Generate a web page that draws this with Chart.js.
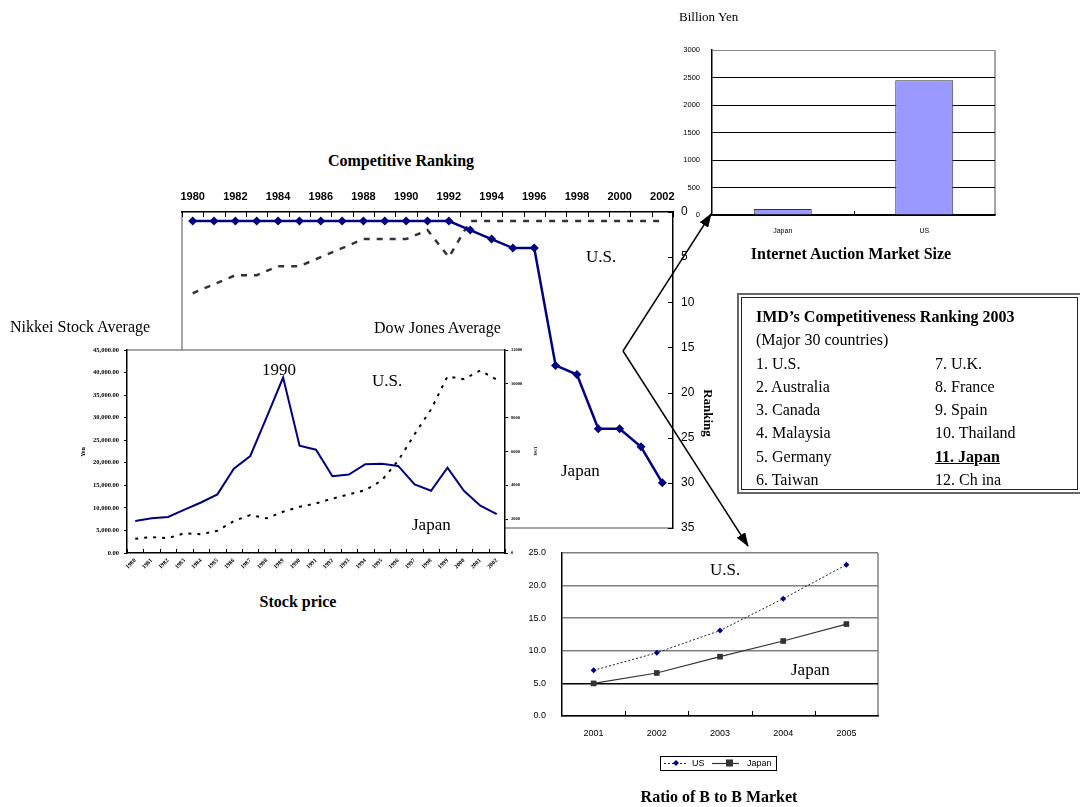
<!DOCTYPE html>
<html>
<head>
<meta charset="utf-8">
<script src="https://cdn.jsdelivr.net/npm/chart.js@4.4.1/dist/chart.umd.min.js"></script>
<style>
  html, body { margin: 0; padding: 0; background: #fff; }
  body { width: 1080px; height: 807px; position: relative; overflow: hidden;
         font-family: "Liberation Serif", "Times New Roman", serif; color: #000; }
  canvas.cv { position: absolute; }
  .t { position: absolute; white-space: nowrap; line-height: 1; }
  .c { transform: translate(-50%, -50%); }
  .l { transform: translateY(-50%); }
  .b { font-weight: bold; }
  #imd { position: absolute; left: 737px; top: 293px; width: 337px; height: 193px;
         border: 2px solid #666; padding: 2px; }
  #imd .in { width: 100%; height: 100%; box-sizing: border-box; border: 1.5px solid #222;
             position: relative; font-size: 16px; }
  #imd .row { position: absolute; left: 14px; white-space: nowrap; line-height: 1; }
  #imd .r2 { left: 193px; }
  svg#arrows { position: absolute; left: 0; top: 0; pointer-events: none; }
</style>
</head>
<body>

<canvas id="rankChart" class="cv" width="600" height="370" style="left:140px;top:175px;width:600px;height:370px"></canvas>
<canvas id="stockChart" class="cv" width="490" height="250" style="left:60px;top:335px;width:490px;height:250px"></canvas>
<canvas id="auctionChart" class="cv" width="360" height="210" style="left:670px;top:35px;width:360px;height:210px"></canvas>
<canvas id="b2bChart" class="cv" width="380" height="240" style="left:520px;top:540px;width:380px;height:240px"></canvas>

<!-- titles and annotations -->
<div class="t l" style="left:679px;top:16px;font-size:13px">Billion Yen</div>
<div class="t c b" style="left:851px;top:254px;font-size:16px">Internet Auction Market Size</div>

<div class="t c b" style="left:401px;top:161px;font-size:16px">Competitive Ranking</div>
<div class="t l" style="left:586px;top:256px;font-size:17px">U.S.</div>
<div class="t l" style="left:561px;top:470px;font-size:17px">Japan</div>
<div class="t c b" style="left:708px;top:413px;font-size:13px;transform:translate(-50%,-50%) rotate(90deg)">Ranking</div>

<div class="t l" style="left:10px;top:327px;font-size:16px">Nikkei Stock Average</div>
<div class="t l" style="left:374px;top:328px;font-size:16px">Dow Jones Average</div>
<div class="t l" style="left:262px;top:369px;font-size:17px">1990</div>
<div class="t l" style="left:372px;top:380px;font-size:17px">U.S.</div>
<div class="t l" style="left:412px;top:524px;font-size:17px">Japan</div>
<div class="t c b" style="left:83px;top:452px;font-size:6px;transform:translate(-50%,-50%) rotate(-90deg)">Yen</div>
<div class="t c b" style="left:535px;top:451px;font-size:5px;transform:translate(-50%,-50%) rotate(90deg)">US$</div>
<div class="t c b" style="left:298px;top:602px;font-size:16px">Stock price</div>

<div class="t l" style="left:710px;top:569px;font-size:17px">U.S.</div>
<div class="t l" style="left:791px;top:669px;font-size:17px">Japan</div>
<div class="t c b" style="left:719px;top:797px;font-size:16px">Ratio of B to B Market</div>

<div id="imd"><div class="in">
  <div class="row b" style="top:11px">IMD’s Competitiveness Ranking 2003</div>
  <div class="row" style="top:34px">(Major 30 countries)</div>
  <div class="row" style="top:58px">1. U.S.</div>
  <div class="row" style="top:81px">2. Australia</div>
  <div class="row" style="top:104px">3. Canada</div>
  <div class="row" style="top:127px">4. Malaysia</div>
  <div class="row" style="top:151px">5. Germany</div>
  <div class="row" style="top:174px">6. Taiwan</div>
  <div class="row r2" style="top:58px">7. U.K.</div>
  <div class="row r2" style="top:81px">8. France</div>
  <div class="row r2" style="top:104px">9. Spain</div>
  <div class="row r2" style="top:127px">10. Thailand</div>
  <div class="row r2 b" style="top:151px;text-decoration:underline">11. Japan</div>
  <div class="row r2" style="top:174px">12. Ch ina</div>
</div></div>

<svg id="arrows" width="1080" height="807" viewBox="0 0 1080 807">
  <defs>
    <marker id="ah" markerWidth="14" markerHeight="10" refX="13" refY="5" orient="auto" markerUnits="userSpaceOnUse">
      <path d="M0,0 L14,5 L0,10 z" fill="#000"/>
    </marker>
  </defs>
  <path d="M623,351 L711,214" stroke="#000" stroke-width="1.5" fill="none" marker-end="url(#ah)"/>
  <path d="M623,351 L748,546" stroke="#000" stroke-width="1.5" fill="none" marker-end="url(#ah)"/>
</svg>

<script>
// ---------- data ----------
const years = ['1980','1981','1982','1983','1984','1985','1986','1987','1988','1989','1990',
               '1991','1992','1993','1994','1995','1996','1997','1998','1999','2000','2001','2002'];

// competitiveness rank by year
const rankJapan = [1,1,1,1,1,1,1,1,1,1,1,1,1,2,3,4,4,17,18,24,24,26,30];
const rankUS    = [9,8,7,7,6,6,5,4,3,3,3,2,5,1,1,1,1,1,1,1,1,1,1];

// year-end stock indices
const nikkeiYen = [7100,7700,8000,9600,11200,13000,18700,21500,30100,38900,23800,22900,
                   17000,17400,19700,19800,19300,15200,13800,18900,13800,10500,8600];
const dowUSD    = [840,940,880,1170,1110,1310,1890,2240,2050,2440,2730,2930,
                   3220,3470,3710,4290,5460,7020,8490,10440,10280,10790,10240];

// internet auction market size (billion yen)
const auctionCountries = ['Japan', 'US'];
const auctionSize = [110, 2450];

// B to B market ratio
const b2bYears = ['2001','2002','2003','2004','2005'];
const b2bUS    = [7.0, 9.7, 13.1, 18.0, 23.2];
const b2bJapan = [5.0, 6.6, 9.1, 11.5, 14.1];

// ---------- helpers ----------
Chart.defaults.font.family = '"Liberation Sans", Arial, sans-serif';
Chart.defaults.color = '#000';

const SANS = '"Liberation Sans", Arial, sans-serif';
const SERIF = '"Liberation Serif", "Times New Roman", serif';
const plain = v => String(v);
const CLEAR = 'rgba(0,0,0,0)';

// plot-area frame: optional white fill, thin edges, and tick marks pointing into the plot
function framePlugin(cfg) {
  return {
    id: 'frame',
    beforeDraw(chart) {
      const a = chart.chartArea, c = chart.ctx;
      c.save();
      if (cfg.fill) {
        c.fillStyle = '#fff';
        c.fillRect(a.left, a.top, a.right - a.left, a.bottom - a.top);
      }
      c.strokeStyle = cfg.edgeColor || '#888';
      c.lineWidth = cfg.edgeWidth || 1.5;
      c.beginPath();
      (cfg.edges || []).forEach(e => {
        if (e === 'top')    { c.moveTo(a.left, a.top);    c.lineTo(a.right, a.top); }
        if (e === 'bottom') { c.moveTo(a.left, a.bottom); c.lineTo(a.right, a.bottom); }
        if (e === 'left')   { c.moveTo(a.left, a.top);    c.lineTo(a.left, a.bottom); }
        if (e === 'right')  { c.moveTo(a.right, a.top);   c.lineTo(a.right, a.bottom); }
      });
      c.stroke();
      c.restore();
    },
    afterDraw(chart) {
      const a = chart.chartArea, c = chart.ctx;
      c.save();
      c.strokeStyle = '#000';
      c.lineWidth = 1;
      (cfg.ticks || []).forEach(t => {
        const s = chart.scales[t.axis];
        c.beginPath();
        if (s.isHorizontal()) {
          const n = chart.data.labels.length;
          const w = (a.right - a.left) / n;
          const from = t.inner ? 1 : 0, to = t.inner ? n - 1 : n;
          const y0 = t.side === 'top' ? a.top : a.bottom;
          const dir = t.side === 'top' ? 1 : -1;
          for (let i = from; i <= to; i++) {
            const x = Math.round(a.left + i * w) + 0.5;
            c.moveTo(x, y0); c.lineTo(x, y0 + dir * t.len);
          }
        } else {
          const x0 = t.side === 'right' ? a.right : a.left;
          const dir = t.side === 'right' ? -1 : 1;
          s.ticks.forEach(tk => {
            const y = Math.round(s.getPixelForValue(tk.value)) + 0.5;
            c.moveTo(x0, y); c.lineTo(x0 + dir * t.len, y);
          });
        }
        c.stroke();
      });
      c.restore();
    }
  };
}

// ---------- competitive ranking ----------
new Chart(document.getElementById('rankChart'), {
  type: 'line',
  data: {
    labels: years,
    datasets: [
      { label: 'Japan', data: rankJapan, borderColor: '#000080', backgroundColor: '#000080',
        borderWidth: 2.5, pointStyle: 'rectRot', pointRadius: 4.5, pointBorderWidth: 0, tension: 0 },
      { label: 'U.S.', data: rankUS, borderColor: '#333', borderWidth: 2.5,
        borderDash: [6, 7], pointRadius: 0, tension: 0 }
    ]
  },
  options: {
    responsive: false, animation: false,
    layout: { padding: { left: 42, top: 0, right: 0, bottom: 17 } },
    plugins: { legend: { display: false }, tooltip: { enabled: false } },
    scales: {
      x: {
        position: 'top', offset: true,
        grid: { display: false, drawTicks: false },
        border: { display: true, color: '#000', width: 1.5 },
        ticks: {
          autoSkip: false, maxRotation: 0, padding: 8,
          font: { family: SANS, size: 11, weight: 'bold' },
          callback: function (v, i) { return i % 2 === 0 ? this.getLabelForValue(v) : ''; }
        },
        afterFit: s => { s.height = 37; }
      },
      y: {
        position: 'right', reverse: true, min: 0, max: 35,
        grid: { display: false, drawTicks: false },
        border: { display: true, color: '#000', width: 1.5 },
        ticks: { stepSize: 5, padding: 8, font: { family: SANS, size: 12 } },
        afterFit: s => { s.width = 67; }
      }
    }
  },
  plugins: [framePlugin({ edges: ['left', 'bottom'], edgeColor: '#888',
    ticks: [{ axis: 'x', side: 'top', len: 5 }, { axis: 'y', side: 'right', len: 5 }] })]
});

// ---------- stock price ----------
new Chart(document.getElementById('stockChart'), {
  type: 'line',
  data: {
    labels: years,
    datasets: [
      { label: 'Nikkei Stock Average', data: nikkeiYen, yAxisID: 'y',
        borderColor: '#000080', borderWidth: 2, pointRadius: 0, tension: 0 },
      { label: 'Dow Jones Average', data: dowUSD, yAxisID: 'y2',
        borderColor: '#000', borderWidth: 2, borderDash: [3, 6], pointRadius: 0, tension: 0 }
    ]
  },
  options: {
    responsive: false, animation: false,
    layout: { padding: { left: 0, top: 15, right: 0, bottom: 0 } },
    plugins: { legend: { display: false }, tooltip: { enabled: false } },
    scales: {
      x: {
        offset: true,
        grid: { display: false, drawTicks: false },
        border: { display: true, color: '#000', width: 1.5 },
        ticks: { autoSkip: false, minRotation: 45, maxRotation: 45, padding: 4,
                 font: { family: SERIF, size: 6, weight: 'bold' } },
        afterFit: s => { s.height = 32; }
      },
      y: {
        position: 'left', min: 0, max: 45000,
        grid: { drawOnChartArea: false, tickLength: 3, color: '#000' },
        border: { display: true, color: '#000', width: 1.5 },
        ticks: { stepSize: 5000, padding: 5, font: { family: SERIF, size: 6.5, weight: 'bold' },
                 callback: v => v.toLocaleString('en-US', { minimumFractionDigits: 2, maximumFractionDigits: 2 }) },
        afterFit: s => { s.width = 67; }
      },
      y2: {
        position: 'right', min: 0, max: 12000,
        grid: { drawOnChartArea: false, tickLength: 3, color: '#000' },
        border: { display: true, color: '#000', width: 1.5 },
        ticks: { stepSize: 2000, padding: 3, font: { family: SERIF, size: 4.5, weight: 'bold' },
                 callback: plain },
        afterFit: s => { s.width = 45; }
      }
    }
  },
  plugins: [framePlugin({ fill: true, edges: ['top'], edgeColor: '#888',
    ticks: [{ axis: 'x', side: 'bottom', len: 4 }] })]
});

// ---------- internet auction market size ----------
new Chart(document.getElementById('auctionChart'), {
  type: 'bar',
  data: {
    labels: auctionCountries,
    datasets: [{ label: 'Billion Yen', data: auctionSize, backgroundColor: '#9999FF',
                 borderColor: '#333', borderWidth: 1, barPercentage: 0.41, categoryPercentage: 1 }]
  },
  options: {
    responsive: false, animation: false,
    layout: { padding: { left: 0, top: 15, right: 35, bottom: 0 } },
    plugins: { legend: { display: false }, tooltip: { enabled: false } },
    scales: {
      x: {
        grid: { display: false, drawTicks: false },
        border: { display: true, color: '#000', width: 1.5 },
        ticks: { padding: 12, font: { family: SANS, size: 7 } },
        afterFit: s => { s.height = 30; }
      },
      y: {
        min: 0, max: 3000,
        grid: { drawTicks: true, tickLength: 7, tickColor: CLEAR, lineWidth: 1,
                color: c => (c.tick && c.tick.value === 3000) ? '#888' : '#000' },
        border: { display: true, color: '#000', width: 1.5 },
        ticks: { stepSize: 500, padding: 5, font: { family: SANS, size: 7.5 }, callback: plain },
        afterFit: s => { s.width = 42; }
      }
    }
  },
  plugins: [framePlugin({ edges: ['right'], edgeColor: '#888',
    ticks: [{ axis: 'x', side: 'bottom', len: 4, inner: true }] })]
});

// ---------- ratio of B to B market ----------
const b2bLegend = {
  id: 'b2bLegend',
  afterDraw(chart) {
    const c = chart.ctx;
    const x = 140, y = 216, w = 116, h = 14, my = y + h / 2;
    c.save();
    c.strokeStyle = '#000'; c.lineWidth = 1;
    c.strokeRect(x + 0.5, y + 0.5, w, h);
    // US entry
    c.strokeStyle = '#222'; c.setLineDash([2, 2]);
    c.beginPath(); c.moveTo(x + 4, my + 0.5); c.lineTo(x + 28, my + 0.5); c.stroke();
    c.setLineDash([]);
    c.fillStyle = '#000080';
    c.beginPath(); c.moveTo(x + 16, my - 3); c.lineTo(x + 19, my); c.lineTo(x + 16, my + 3); c.lineTo(x + 13, my); c.closePath(); c.fill();
    // Japan entry
    c.strokeStyle = '#333'; c.lineWidth = 1.2;
    c.beginPath(); c.moveTo(x + 52, my + 0.5); c.lineTo(x + 79, my + 0.5); c.stroke();
    c.fillStyle = '#333';
    c.fillRect(x + 66, my - 3.5, 7, 7);
    c.fillStyle = '#000';
    c.font = '9px ' + SANS;
    c.textBaseline = 'middle';
    c.fillText(chart.data.datasets[0].label, x + 32, my + 0.5);
    c.fillText(chart.data.datasets[1].label, x + 87, my + 0.5);
    c.restore();
  }
};

new Chart(document.getElementById('b2bChart'), {
  type: 'line',
  data: {
    labels: b2bYears,
    datasets: [
      { label: 'US', data: b2bUS, borderColor: '#222', borderWidth: 1, borderDash: [2, 2],
        pointStyle: 'rectRot', pointRadius: 3, pointBackgroundColor: '#000080',
        pointBorderColor: '#000080', pointBorderWidth: 0, tension: 0 },
      { label: 'Japan', data: b2bJapan, borderColor: '#333', borderWidth: 1.2,
        pointStyle: 'rect', pointRadius: 4, pointBackgroundColor: '#333',
        pointBorderColor: '#333', pointBorderWidth: 0, tension: 0 }
    ]
  },
  options: {
    responsive: false, animation: false,
    layout: { padding: { left: 0, top: 13, right: 22, bottom: 40 } },
    plugins: { legend: { display: false }, tooltip: { enabled: false } },
    scales: {
      x: {
        offset: true,
        grid: { display: false, drawTicks: false },
        border: { display: true, color: '#000', width: 1.5 },
        ticks: { padding: 12, font: { family: SANS, size: 9 } },
        afterFit: s => { s.height = 24; }
      },
      y: {
        min: 0, max: 25,
        grid: { drawTicks: true, tickLength: 9, tickColor: CLEAR, lineWidth: 1.5,
                color: c => (c.tick && c.tick.value === 5) ? '#000' : '#808080' },
        border: { display: true, color: '#000', width: 1.5 },
        ticks: { stepSize: 5, padding: 7, font: { family: SANS, size: 9 },
                 callback: v => v.toFixed(1) },
        afterFit: s => { s.width = 42; }
      }
    }
  },
  plugins: [framePlugin({ edges: ['right'], edgeColor: '#808080',
    ticks: [{ axis: 'x', side: 'bottom', len: 5, inner: true }] }), b2bLegend]
});
</script>
</body>
</html>
